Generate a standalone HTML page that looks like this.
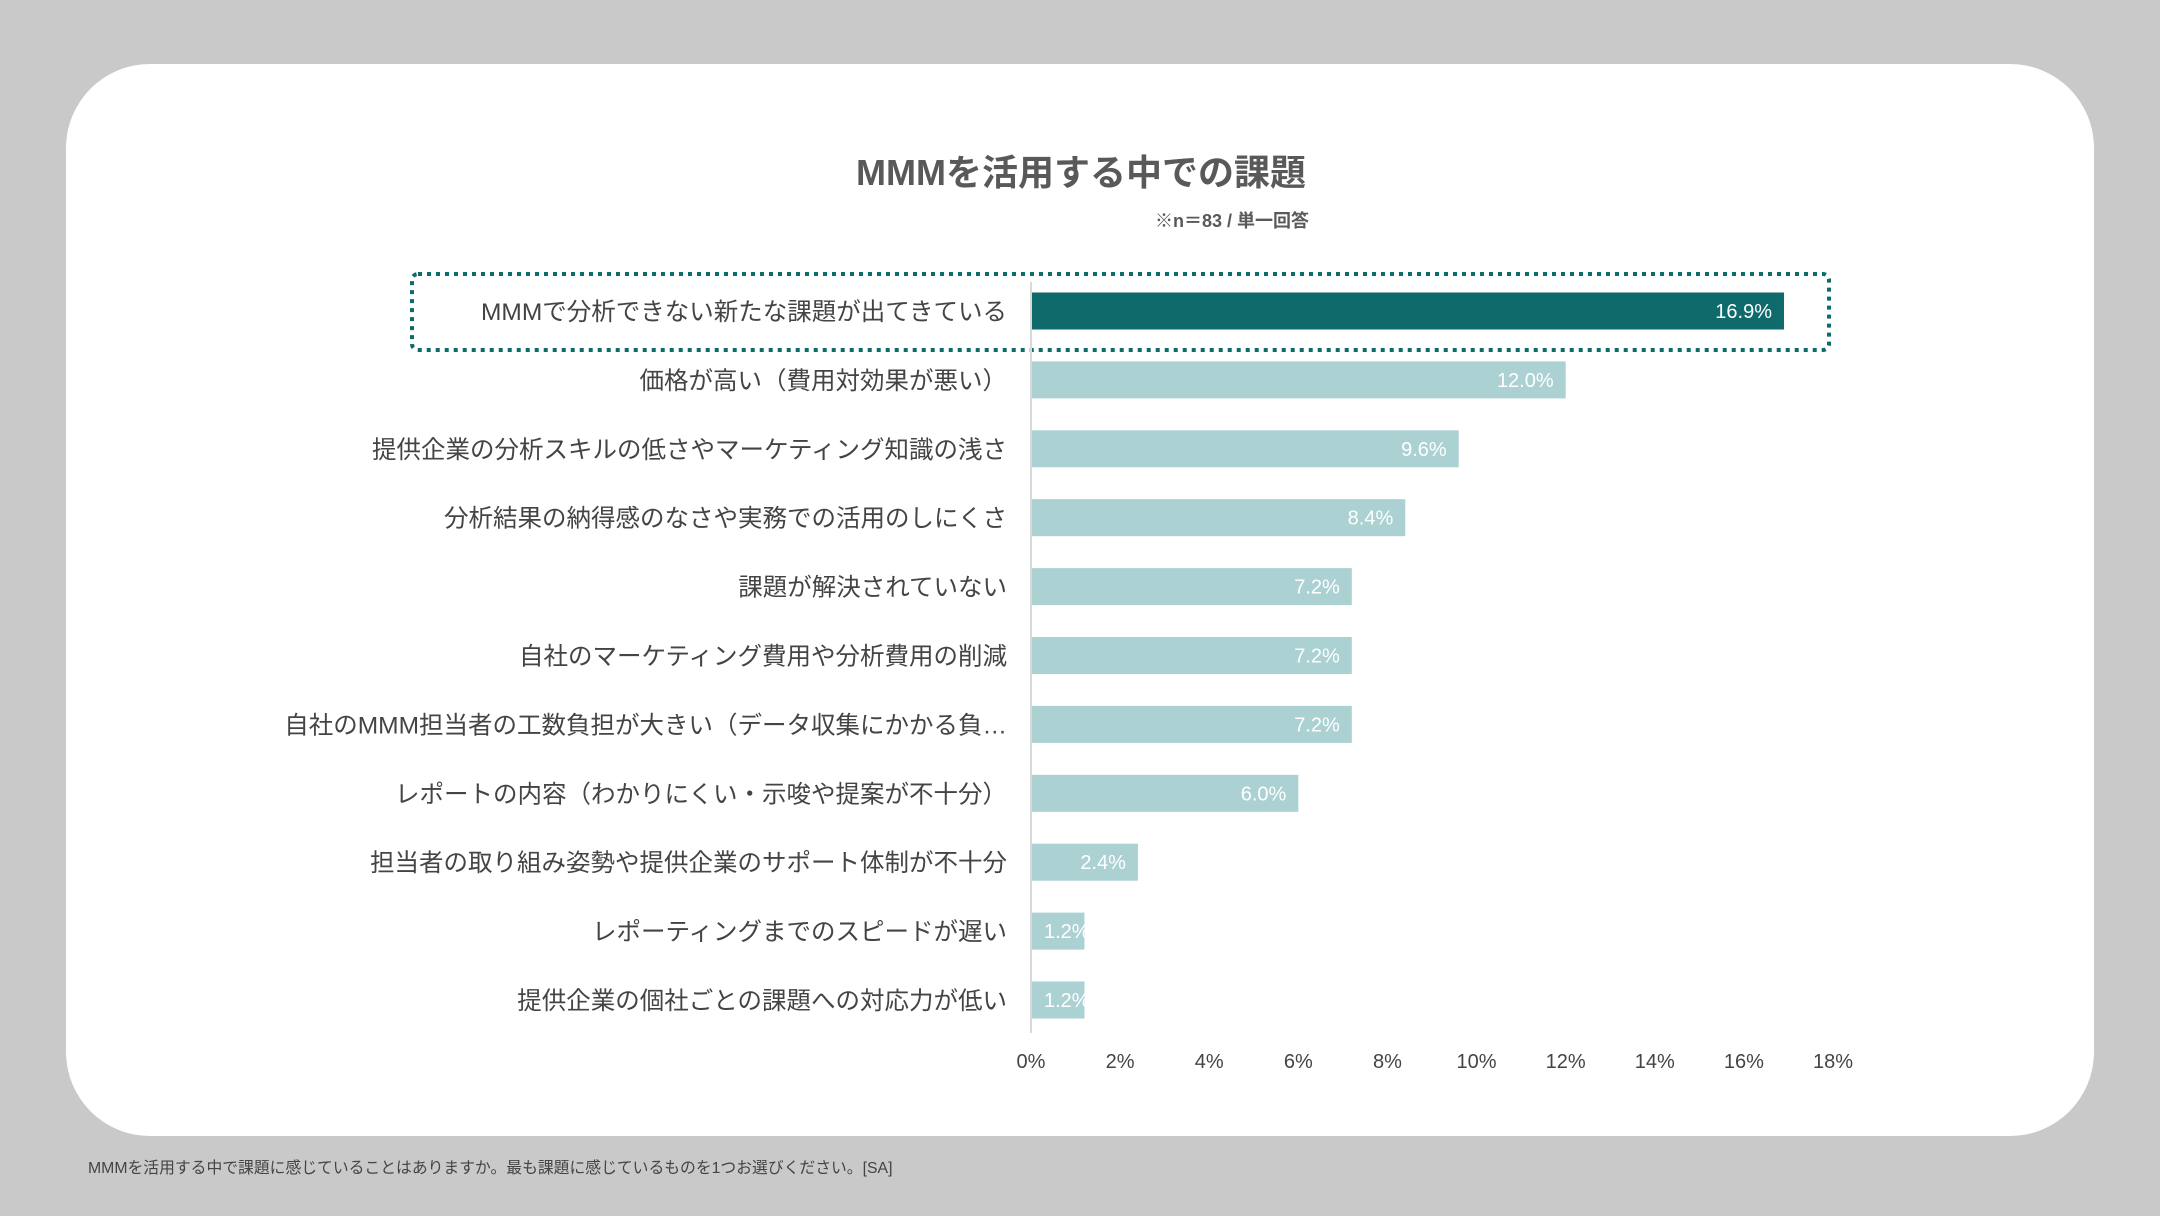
<!DOCTYPE html>
<html><head><meta charset="utf-8">
<style>
html,body{margin:0;padding:0;background:#c9c9c9;}
body{width:2160px;height:1216px;overflow:hidden;position:relative;font-family:"Liberation Sans","Noto Sans CJK JP",sans-serif;}
#card{position:absolute;left:66px;top:64px;width:2028px;height:1072px;background:#fff;border-radius:84px;}
#foot{position:absolute;left:88px;top:1155px;font-size:15.8px;color:#444;}
svg{position:absolute;left:0;top:0;}
</style></head><body>
<div id="card"></div>
<div id="foot">MMMを活用する中で課題に感じていることはありますか。最も課題に感じているものを1つお選びください。[SA]</div>
<svg id="chart" width="2160" height="1216">
<text x="1081" y="185" text-anchor="middle" font-size="36" font-weight="bold" fill="#595959">MMMを活用する中での課題</text>
<text x="1309" y="227" text-anchor="end" font-size="18" font-weight="bold" fill="#595959">※n＝83 / 単一回答</text>
<rect x="412" y="274" width="1417" height="76" rx="6" fill="none" stroke="#0e6b6b" stroke-width="4" stroke-dasharray="4 5"/>
<g id="bars"></g>
<line x1="1031" y1="282" x2="1031" y2="1033" stroke="#d9d9d9" stroke-width="2"/>
<g id="ticks"></g>
</svg>
<script>
const categories=["MMMで分析できない新たな課題が出てきている","価格が高い（費用対効果が悪い）","提供企業の分析スキルの低さやマーケティング知識の浅さ","分析結果の納得感のなさや実務での活用のしにくさ","課題が解決されていない","自社のマーケティング費用や分析費用の削減","自社のMMM担当者の工数負担が大きい（データ収集にかかる負…","レポートの内容（わかりにくい・示唆や提案が不十分）","担当者の取り組み姿勢や提供企業のサポート体制が不十分","レポーティングまでのスピードが遅い","提供企業の個社ごとの課題への対応力が低い"];
const values=[16.9,12.0,9.6,8.4,7.2,7.2,7.2,6.0,2.4,1.2,1.2];
const tickValues=[0,2,4,6,8,10,12,14,16,18];
const NS="http://www.w3.org/2000/svg";
const x=v=>1031+v*(1833-1031)/18;
const y=i=>311+i*68.9;
const bars=document.getElementById('bars'),ticks=document.getElementById('ticks');
function mk(tag,attrs,parent,txt){const e=document.createElementNS(NS,tag);for(const k in attrs)e.setAttribute(k,attrs[k]);if(txt!==undefined)e.textContent=txt;parent.appendChild(e);return e;}
const defs=mk('defs',{},bars);
categories.forEach((c,i)=>{
  const w=x(values[i])-x(0);
  const r=mk('rect',{x:x(0),y:y(i)-18.5,width:w,height:37,fill:i===0?'#0f6b6b':'#abd1d3'},bars);
  
  
  const l=mk('text',{x:1007,y:y(i)+9,'text-anchor':'end','font-size':24.5,fill:'#444'},bars,c);
  
  
  const cp=mk('clipPath',{id:'cp'+i},defs);
  mk('rect',{x:x(0),y:y(i)-18.5,width:w,height:37},cp);
  const small=w<70;
  const v=mk('text',{x:small?x(0)+13:x(values[i])-12,y:y(i)+7,'text-anchor':small?'start':'end','font-size':20,fill:'#fff','clip-path':'url(#cp'+i+')'},bars,values[i].toFixed(1)+'%');
  
  
});
tickValues.forEach(t=>{
  const e=mk('text',{x:x(t),y:1068,'text-anchor':'middle','font-size':20,fill:'#444'},ticks,t+'%');
  
  
});
</script>
</body></html>
